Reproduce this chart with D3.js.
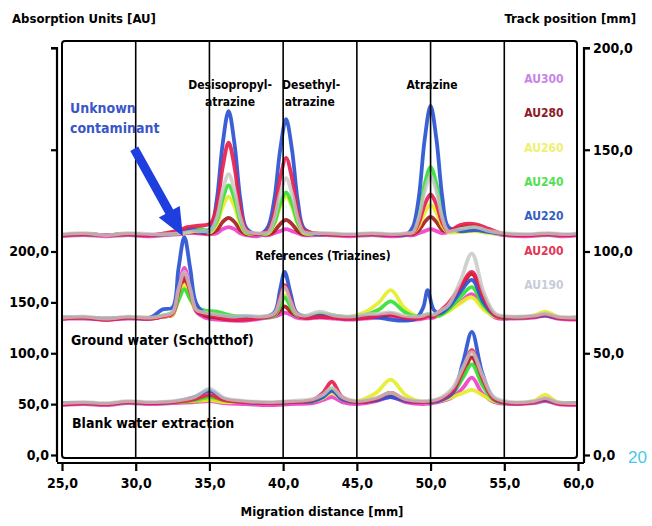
<!DOCTYPE html>
<html>
<head>
<meta charset="utf-8">
<script src="https://cdn.jsdelivr.net/npm/d3@7"></script>
<style>
  body { margin: 0; background: #fff; }
  svg text { font-family: "DejaVu Sans Condensed", "Liberation Sans Narrow", "Arial Narrow", sans-serif; font-stretch: condensed; font-weight: bold; }
</style>
</head>
<body>
<div id="chart"></div>
<script>
// wavelength channels (draw order: back to front)
const channels = ["AU300", "AU280", "AU260", "AU240", "AU220", "AU200", "AU190"];
const legendOrder = ["AU300", "AU280", "AU260", "AU240", "AU220", "AU200", "AU190"];
const lineColors = {
    AU300: "#f040c8", AU280: "#a81c1c", AU260: "#e6ee2a", AU240: "#34e034",
    AU220: "#2a52d2", AU200: "#e8204e", AU190: "#c4c4c2"
};
const legendColors = {
    AU300: "#c884e8", AU280: "#8e1a26", AU260: "#eef070", AU240: "#52e052",
    AU220: "#3460c4", AU200: "#e23652", AU190: "#c8ccd8"
};

const xTicks = [25, 30, 35, 40, 45, 50, 55, 60];
const leftTicks = [0, 50, 100, 150, 200, 300, 400];
const leftLabels = [0, 50, 100, 150, 200];
const rightTicks = [0, 50, 100, 150, 200];

// Track 1: References (Triazines) - baseline in AU, values above baseline
const refBase = 216;
const refX = [25, 26.5, 28, 29.5, 31, 32, 33, 33.5, 34, 34.7, 35.1, 35.5, 35.9, 36.3, 36.7, 37.1, 37.5, 38.2, 38.6, 39.0, 39.4, 39.8, 40.2, 40.6, 41.0, 41.4, 42.2, 43, 44.5, 46, 47.5, 48.4, 48.8, 49.2, 49.6, 50.0, 50.4, 50.8, 51.2, 52, 53, 54, 55, 56.5, 58, 59, 60];
const refAU190 = [1, 2, 0, 2, 1, 1, 2, 3, 4, 4, 5, 17, 44, 60, 44, 17, 4, 2, 2, 3, 16, 41, 56, 41, 16, 3, 2, 2, 1, 2, 1, 2, 3, 17, 43, 58, 43, 17, 4, 6, 8, 4, 2, 1, 2, 1, 2];
const refAU200 = [0, 1, 0, 1, 0, 2, 5, 8, 9, 10, 12, 28, 67, 91, 67, 26, 5, 1, 2, 5, 22, 56, 76, 56, 22, 5, 2, 1, 0, 1, 0, 1, 2, 12, 30, 40, 30, 12, 4, 10, 11, 6, 1, 0, 1, 0, 1];
const refAU220 = [0, 1, 0, 1, 0, 1, 3, 6, 5, 3, 7, 35, 90, 122, 90, 35, 7, 1, 2, 9, 35, 84, 114, 84, 33, 7, 1, 1, 0, 1, 0, 1, 8, 37, 94, 127, 94, 37, 8, 4, 5, 3, 1, 0, 1, 0, 1];
const refAU240 = [0, 1, 0, 1, 0, 1, 3, 6, 7, 5, 5, 14, 36, 49, 36, 14, 3, 1, 1, 3, 12, 31, 42, 31, 12, 3, 1, 1, 0, 1, 0, 1, 4, 19, 50, 67, 50, 19, 5, 6, 7, 4, 1, 0, 1, 0, 1];
const refAU260 = [0, 1, 0, 1, 0, 1, 2, 3, 4, 3, 3, 11, 28, 38, 28, 11, 2, 1, 1, 2, 11, 28, 38, 28, 11, 2, 1, 1, 0, 1, 0, 1, 2, 9, 22, 30, 22, 9, 3, 3, 4, 2, 1, 0, 1, 0, 1];
const refAU280 = [0, 1, 0, 1, 0, 1, 2, 3, 3, 2, 2, 5, 13, 17, 13, 5, 1, 1, 1, 1, 4, 11, 15, 11, 4, 1, 1, 1, 0, 1, 0, 1, 1, 5, 13, 18, 13, 5, 4, 8, 9, 4, 1, 0, 1, 0, 1];
const refAU300 = [-1, 0, -1, 0, -1, 0, 1, 2, 2, 1, 1, 2, 6, 8, 6, 2, 0, -1, 0, 0, 2, 4, 6, 4, 2, 0, 0, 0, -1, 0, -1, 0, 0, 2, 4, 6, 4, 2, 3, 7, 7, 3, 0, -1, 0, -1, 0];

// Track 2: Ground water (Schotthof)
const gwBase = 135;
const gwX = [25, 26.5, 28, 29.5, 31, 31.8, 32.5, 32.9, 33.3, 33.7, 34.1, 34.7, 35.5, 36.5, 37.5, 38.5, 39.4, 39.8, 40.1, 40.5, 40.9, 41.5, 42.5, 43.5, 44.5, 45.5, 46.5, 47.3, 48.2, 49, 49.5, 49.8, 50.2, 50.6, 51.2, 52, 52.8, 53.6, 54.4, 55.5, 57, 57.8, 58.6, 60];
const gwAU190 = [0, 1, -1, 1, 0, 2, 5, 28, 45, 28, 8, 5, 3, 1, 2, 1, 4, 18, 30, 16, 4, 2, 6, 2, 1, 3, 4, 5, 2, 1, 2, 4, 3, 6, 12, 35, 63, 25, 4, 1, 2, 4, 1, 0];
const gwAU200 = [-1, 0, -2, 0, -1, 1, 4, 25, 42, 25, 8, 3, 1, -2, -2, 0, 3, 20, 32, 18, 4, 0, 1, 0, -1, 0, 2, 4, 0, -1, 0, 2, 1, 6, 14, 30, 45, 20, 2, 0, 1, 3, 0, -1];
const gwAU220 = [0, 0, -1, 0, 0, 8, 10, 48, 79, 48, 14, 4, 2, 0, 1, 0, 5, 28, 45, 24, 5, 1, 2, 1, 0, 1, 0, -2, -3, -1, 10, 27, 8, 4, 10, 25, 37, 15, 2, 0, 1, 2, 0, 0];
const gwAU240 = [0, 0, -1, 0, 0, 2, 5, 17, 28, 18, 10, 7, 6, 2, 1, 0, 2, 12, 20, 11, 3, 1, 4, 2, 0, 2, 8, 16, 6, 1, 2, 3, 2, 2, 8, 20, 30, 12, 2, 0, 1, 3, 0, 0];
const gwAU260 = [0, 0, -1, 0, 0, 1, 3, 18, 32, 18, 8, 4, 2, 0, 0, 1, 2, 13, 22, 12, 3, 1, 2, 2, 1, 5, 15, 27, 10, 2, 2, 2, 2, 2, 6, 14, 20, 8, 1, 0, 2, 6, 1, 0];
const gwAU280 = [-1, 0, -2, 0, -1, 1, 3, 22, 38, 22, 7, 2, 0, -2, -1, 0, 2, 7, 11, 6, 2, 0, 1, 0, -1, 0, 1, 3, 0, 0, 1, 2, 2, 5, 12, 28, 43, 18, 1, 0, 1, 4, 0, -1];
const gwAU300 = [-1, -1, -2, -1, -1, 1, 3, 28, 49, 28, 6, 0, -2, -3, -3, -1, 1, 3, 5, 3, 0, -1, 0, -1, -2, -1, 0, 1, -2, -2, -1, 0, 0, 3, 8, 15, 23, 10, 0, -1, 0, 2, -1, -2];

// Track 3: Blank water extraction
const blBase = 51;
const blX = [25, 26.5, 28, 29.5, 31, 32.5, 34, 35, 36, 37.5, 39, 40.5, 42, 42.7, 43.3, 44, 45, 46.3, 47.3, 48.3, 49.5, 50.5, 51.5, 52.2, 52.8, 53.5, 54.3, 55.5, 57, 57.8, 58.6, 60];
const blAU190 = [0, 1, 0, 2, 1, 2, 6, 14, 5, 2, 1, 2, 4, 8, 15, 6, 2, 5, 10, 4, 2, 4, 15, 35, 50, 28, 6, 1, 2, 5, 1, 0];
const blAU200 = [-1, 0, -1, 1, 0, 1, 4, 8, 3, 1, 0, 1, 3, 10, 21, 6, 1, 4, 10, 3, 1, 3, 12, 32, 52, 25, 4, 0, 1, 4, 0, -1];
const blAU220 = [0, 0, -1, 1, 0, 1, 6, 12, 4, 1, 0, 1, 2, 6, 12, 4, 1, 3, 6, 2, 1, 2, 10, 40, 70, 30, 4, 0, 1, 3, 0, 0];
const blAU240 = [0, 0, -1, 1, 0, 1, 3, 6, 3, 1, 0, 1, 2, 6, 14, 4, 1, 4, 10, 3, 1, 3, 10, 25, 38, 18, 3, 0, 1, 3, 0, 0];
const blAU260 = [0, 0, -1, 1, 0, 1, 2, 3, 1, 1, 0, 1, 2, 5, 10, 4, 2, 10, 23, 8, 1, 2, 6, 10, 13, 8, 2, 0, 2, 8, 1, 0];
const blAU280 = [-1, 0, -1, 1, 0, 1, 2, 4, 2, 1, 0, 1, 2, 6, 12, 4, 1, 3, 8, 3, 1, 3, 10, 28, 45, 22, 3, 0, 1, 4, 0, -1];
const blAU300 = [-2, -1, -2, 0, -1, 0, 1, 2, 0, -1, -2, -1, 0, 3, 6, 1, -1, 2, 6, 1, -1, 1, 6, 15, 25, 10, 1, -1, 0, 2, -1, -2];

const tracks = [
    { base: blBase, x: blX, values: { AU190: blAU190, AU200: blAU200, AU220: blAU220, AU240: blAU240, AU260: blAU260, AU280: blAU280, AU300: blAU300 } },
    { base: gwBase, x: gwX, values: { AU190: gwAU190, AU200: gwAU200, AU220: gwAU220, AU240: gwAU240, AU260: gwAU260, AU280: gwAU280, AU300: gwAU300 } },
    { base: refBase, x: refX, values: { AU190: refAU190, AU200: refAU200, AU220: refAU220, AU240: refAU240, AU260: refAU260, AU280: refAU280, AU300: refAU300 } }
];

const width = 652, height = 526;
const svg = d3.select("#chart").append("svg")
    .attr("width", width).attr("height", height);

// Scales
const x = d3.scaleLinear().domain([25, 60]).range([62, 578]);
const yLeft = d3.scaleLinear().domain([0, 400]).range([455, 48]);
const yRight = d3.scaleLinear().domain([0, 200]).range([455, 48]);

const fmt = v => d3.format(".1f")(v).replace(".", ",");

// Traces (clipped to the frame)
svg.append("clipPath").attr("id", "clip")
    .append("rect").attr("x", 63).attr("y", 42).attr("width", 514).attr("height", 415);

const line = d3.line()
    .x(d => x(d[0]))
    .y(d => yLeft(d[1]))
    .curve(d3.curveCatmullRom.alpha(0.5));

const traces = svg.append("g").attr("clip-path", "url(#clip)");
tracks.forEach(t => {
    channels.forEach(ch => {
        const pts = t.x.map((xv, i) => [xv, t.base + t.values[ch][i]]);
        traces.append("path")
            .attr("d", line(pts))
            .attr("fill", "none")
            .attr("stroke", lineColors[ch])
            .attr("stroke-width", 3.8)
            .attr("stroke-linejoin", "round")
            .attr("stroke-opacity", ch === "AU190" ? 0.8 : 0.92);
    });
});

// Vertical grid lines
svg.append("g").selectAll("line")
    .data(xTicks.slice(1, -1))
    .join("line")
    .attr("x1", d => x(d)).attr("x2", d => x(d))
    .attr("y1", 41).attr("y2", 458)
    .attr("stroke", "#000").attr("stroke-width", 1.6);

// Plot frame
svg.append("rect")
    .attr("x", 62).attr("y", 41).attr("width", 515).attr("height", 417)
    .attr("rx", 3)
    .attr("fill", "none").attr("stroke", "#000").attr("stroke-width", 2);

// Left axis
const leftAxis = d3.axisLeft(yLeft).tickValues(leftTicks).tickSize(6)
    .tickFormat(d => leftLabels.includes(d) ? fmt(d) : "");
const gl = svg.append("g").attr("transform", "translate(57,0)").call(leftAxis);
gl.select(".domain").attr("d", `M-6,${yLeft(400)}H0V462`);

// Bottom axis
const bottomAxis = d3.axisBottom(x).tickValues(xTicks).tickSize(8).tickFormat(fmt);
const gb = svg.append("g").attr("transform", "translate(0,463)").call(bottomAxis);
gb.select(".domain").attr("d", "M57,0H584");

// Right axis
const rightAxis = d3.axisRight(yRight).tickValues(rightTicks).tickSize(6).tickFormat(fmt);
const gr = svg.append("g").attr("transform", "translate(584,0)").call(rightAxis);
gr.select(".domain").attr("d", `M6,${yRight(200)}H0V463`);

[gl, gb, gr].forEach(g => {
    g.select(".domain").attr("stroke", "#000").attr("stroke-width", 2.2).attr("fill", "none");
    g.selectAll(".tick line").attr("stroke", "#000").attr("stroke-width", 2.2);
    g.selectAll(".tick text").attr("fill", "#000")
        .style("font-size", "14px").style("font-weight", "bold")
        .style("font-family", '"DejaVu Sans Condensed", "Liberation Sans Narrow", sans-serif');
});
gl.selectAll(".tick text").attr("x", -8);
gb.selectAll(".tick text").attr("y", 15);
gr.selectAll(".tick text").attr("x", 9);

// Axis titles
svg.append("text").attr("x", 12).attr("y", 23)
    .style("font-size", "13px").text("Absorption Units [AU]");
svg.append("text").attr("x", 636).attr("y", 23).attr("text-anchor", "end")
    .style("font-size", "13px").text("Track position [mm]");
svg.append("text").attr("x", 322).attr("y", 516).attr("text-anchor", "middle")
    .style("font-size", "13px").text("Migration distance [mm]");

// Legend
svg.append("g").selectAll("text")
    .data(legendOrder)
    .join("text")
    .attr("x", 544)
    .attr("y", (d, i) => 83 + i * 34.3)
    .attr("text-anchor", "middle")
    .attr("fill", d => legendColors[d])
    .style("font-size", "12px")
    .text(d => d);

// Compound labels
const labels = [
    { t: "Desisopropyl-", mm: 36.4, au: 360 },
    { t: "atrazine", mm: 36.4, au: 343 },
    { t: "Desethyl-", mm: 41.9, au: 360 },
    { t: "atrazine", mm: 41.8, au: 343 },
    { t: "Atrazine", mm: 50.1, au: 360 }
];
svg.append("g").selectAll("text")
    .data(labels)
    .join("text")
    .attr("x", d => x(d.mm))
    .attr("y", d => yLeft(d.au))
    .attr("text-anchor", "middle")
    .style("font-size", "12px")
    .text(d => d.t);

// Track labels
svg.append("text").attr("x", x(42.7)).attr("y", yLeft(191.5))
    .attr("text-anchor", "middle").style("font-size", "12px").text("References (Triazines)");
svg.append("text").attr("x", 71).attr("y", yLeft(108))
    .style("font-size", "14px").text("Ground water (Schotthof)");
svg.append("text").attr("x", 72).attr("y", yLeft(26.5))
    .style("font-size", "14px").text("Blank water extraction");

// Unknown contaminant annotation
svg.append("text").attr("x", 70).attr("y", 113)
    .attr("fill", "#3a56c8").style("font-size", "14px").text("Unknown");
svg.append("text").attr("x", 70).attr("y", 133)
    .attr("fill", "#3a56c8").style("font-size", "14px").text("contaminant");

const tail = [x(29.9), yLeft(301)];
const tip = [x(33.2), yLeft(215)];
const ang = Math.atan2(tip[1] - tail[1], tip[0] - tail[0]);
const headLen = 28, headW = 12, shaftW = 4.5;
const ux = Math.cos(ang), uy = Math.sin(ang), px = -uy, py = ux;
const hb = [tip[0] - ux * headLen, tip[1] - uy * headLen];
const arrowPts = [
    [tail[0] + px * shaftW, tail[1] + py * shaftW],
    [hb[0] + px * shaftW, hb[1] + py * shaftW],
    [hb[0] + px * headW, hb[1] + py * headW],
    tip,
    [hb[0] - px * headW, hb[1] - py * headW],
    [hb[0] - px * shaftW, hb[1] - py * shaftW],
    [tail[0] - px * shaftW, tail[1] - py * shaftW]
];
svg.append("path")
    .attr("d", "M" + arrowPts.map(p => p.join(",")).join("L") + "Z")
    .attr("fill", "#1f3ee0");

// stray cropped label at right edge
svg.append("text").attr("x", 628).attr("y", 463)
    .attr("fill", "#48c8ea").style("font-size", "17px").style("font-weight", "normal")
    .style("font-family", "Liberation Sans, sans-serif").text("20");
</script>
</body>
</html>
